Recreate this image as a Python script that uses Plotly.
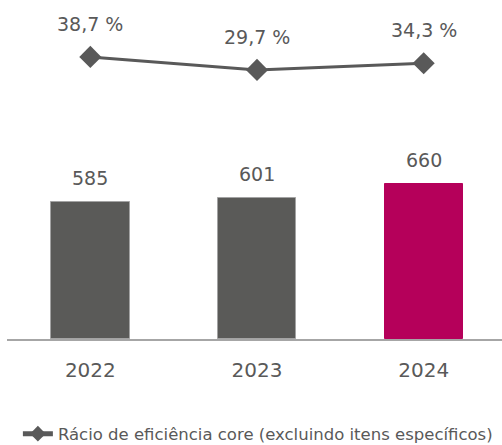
import plotly.graph_objects as go

years = ["2022", "2023", "2024"]
costs = [585, 601, 660]
ratio = [38.7, 29.7, 34.3]
ratio_labels = ["38,7 %", "29,7 %", "34,3 %"]
bar_colors = ["#5a5a58", "#5a5a58", "#b5005a"]
bar_edge = ["#a3a3a3", "#a3a3a3", "#b5005a"]

FONT = "DejaVu Sans"
GREY = "#595959"

fig = go.Figure()
fig.add_trace(go.Bar(
    x=[0, 1, 2], y=costs, width=0.47,
    marker=dict(color=bar_colors, line=dict(color=bar_edge, width=1)),
    showlegend=False, yaxis="y",
))
fig.add_trace(go.Scatter(
    x=[0, 1, 2], y=ratio, mode="lines+markers",
    line=dict(color=GREY, width=3),
    marker=dict(symbol="diamond", size=17, color=GREY),
    name="Rácio de eficiência core (excluindo itens específicos)",
    yaxis="y2",
))

annotations = []
for i, v in enumerate(costs):
    annotations.append(dict(x=i, y=v, xref="x", yref="y", text=str(v),
                            showarrow=False, yshift=24,
                            font=dict(family=FONT, size=19, color=GREY)))
for i, v in enumerate(ratio):
    annotations.append(dict(x=i, y=v, xref="x", yref="y2", text=ratio_labels[i],
                            showarrow=False, yshift=33,
                            font=dict(family=FONT, size=19, color=GREY)))

fig.update_layout(
    width=502, height=445,
    margin=dict(l=7, r=0, t=0, b=106, autoexpand=False),
    paper_bgcolor="white", plot_bgcolor="white",
    font=dict(family=FONT, color=GREY),
    xaxis=dict(range=[-0.5, 2.47], tickmode="array", tickvals=[0, 1, 2], ticktext=years,
               showgrid=False, zeroline=False, showline=True, linecolor="#a6a6a6", linewidth=1.5,
               ticks="", ticklabelstandoff=12, tickfont=dict(family=FONT, size=20, color=GREY)),
    yaxis=dict(range=[0, 1445.6], visible=False, showgrid=False),
    yaxis2=dict(range=[-156.6, 78.1], overlaying="y", visible=False, showgrid=False),
    legend=dict(orientation="h", x=0.022, xanchor="left", y=-0.28, yanchor="middle",
                font=dict(family=FONT, size=16.5, color=GREY), itemwidth=30,
                itemsizing="constant"),
    annotations=annotations,
    bargap=0,
)

fig.write_html("out.html", config={"displayModeBar": False},
               post_script="document.body.style.margin='0';document.body.style.overflow='hidden';")
